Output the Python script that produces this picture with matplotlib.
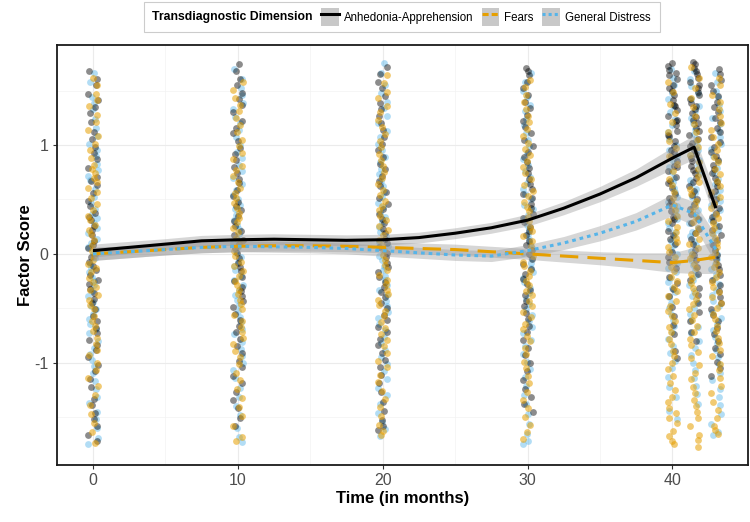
import matplotlib
matplotlib.use('Agg')
import matplotlib.pyplot as plt
from matplotlib.lines import Line2D
from matplotlib.patches import Patch, Rectangle
import numpy as np

plt.rcParams['font.family'] = ['Liberation Sans', 'DejaVu Sans']
plt.rcParams['axes.unicode_minus'] = False

# Measurement waves (months)
waves = [0, 10, 20, 30, 40, 41.5, 43]

# Factor scores per wave
anh_points = [
    [1.68, 1.55, 1.41, 1.29, 1.12, 0.98, 0.87, 0.71, 0.63, 0.49, 0.38, 0.31, 0.22, 0.12, 0.05, -0.03, -0.11, -0.19, -0.28, -0.36, -0.45, -0.57, -0.68, -0.79, -0.88, -1.02, -1.15, -1.33, -1.46, -1.58, -1.72,
     1.61, 1.47, 1.35, 1.21, 1.06, 0.93, 0.79, 0.67, 0.56, 0.44, 0.34, 0.26, 0.17, 0.08, 0.01, -0.07, -0.15, -0.24, -0.32, -0.41, -0.51, -0.62, -0.73, -0.84, -0.95, -1.08, -1.22, -1.39, -1.52, -1.66],
    [1.74, 1.61, 1.48, 1.37, 1.22, 1.11, 0.97, 0.86, 0.74, 0.65, 0.53, 0.44, 0.35, 0.26, 0.17, 0.09, 0.01, -0.08, -0.16, -0.25, -0.34, -0.43, -0.55, -0.66, -0.78, -0.91, -1.04, -1.19, -1.34, -1.51,
     1.68, 1.55, 1.42, 1.30, 1.16, 1.04, 0.92, 0.80, 0.69, 0.59, 0.48, 0.40, 0.30, 0.21, 0.13, 0.05, -0.04, -0.12, -0.21, -0.30, -0.39, -0.49, -0.61, -0.72, -0.85, -0.98, -1.12, -1.27, -1.42, -1.58],
    [1.72, 1.58, 1.45, 1.33, 1.20, 1.07, 0.95, 0.83, 0.72, 0.62, 0.51, 0.41, 0.32, 0.23, 0.14, 0.06, -0.03, -0.12, -0.21, -0.30, -0.40, -0.50, -0.61, -0.72, -0.84, -0.97, -1.11, -1.27, -1.44, -1.62,
     1.65, 1.52, 1.39, 1.27, 1.14, 1.01, 0.89, 0.78, 0.67, 0.57, 0.46, 0.37, 0.28, 0.19, 0.10, 0.01, -0.08, -0.17, -0.26, -0.35, -0.45, -0.56, -0.67, -0.78, -0.91, -1.04, -1.19, -1.36, -1.53, -1.58],
    [1.71, 1.64, 1.52, 1.40, 1.28, 1.17, 1.05, 0.94, 0.84, 0.74, 0.64, 0.55, 0.46, 0.37, 0.29, 0.21, 0.12, 0.04, -0.05, -0.14, -0.23, -0.33, -0.43, -0.54, -0.66, -0.79, -0.93, -1.08, -1.24, -1.38,
     1.68, 1.58, 1.46, 1.34, 1.22, 1.11, 0.99, 0.89, 0.79, 0.69, 0.60, 0.51, 0.42, 0.33, 0.25, 0.17, 0.08, 0.00, -0.09, -0.18, -0.28, -0.38, -0.48, -0.60, -0.72, -0.86, -1.00, -1.16, -1.31, -1.45],
    [1.75, 1.69, 1.64, 1.55, 1.50, 1.41, 1.36, 1.27, 1.22, 1.13, 1.08, 0.99, 0.94, 0.85, 0.80, 0.71, 0.65, 0.55, 0.49, 0.39, 0.32, 0.21, 0.14, 0.02, -0.07, -0.21, -0.32, -0.49, -0.65, -0.89,
     1.73, 1.66, 1.61, 1.52, 1.46, 1.37, 1.32, 1.23, 1.18, 1.09, 1.04, 0.95, 0.90, 0.81, 0.76, 0.67, 0.61, 0.51, 0.45, 0.34, 0.28, 0.17, 0.09, -0.03, -0.13, -0.27, -0.39, -0.57, -0.74, -0.96],
    [1.76, 1.71, 1.65, 1.58, 1.52, 1.46, 1.39, 1.33, 1.26, 1.20, 1.13, 1.06, 0.99, 0.92, 0.85, 0.77, 0.70, 0.62, 0.54, 0.46, 0.37, 0.28, 0.19, 0.09, -0.01, -0.12, -0.24, -0.38, -0.53, -0.72,
     1.74, 1.68, 1.62, 1.55, 1.49, 1.42, 1.36, 1.29, 1.23, 1.16, 1.09, 1.02, 0.95, 0.88, 0.81, 0.74, 0.66, 0.58, 0.50, 0.41, 0.32, 0.23, 0.14, 0.04, -0.06, -0.18, -0.31, -0.45, -0.62, -0.80],
    [1.70, 1.60, 1.50, 1.40, 1.30, 1.21, 1.12, 1.03, 0.94, 0.86, 0.78, 0.70, 0.62, 0.54, 0.46, 0.38, 0.30, 0.22, 0.13, 0.04, -0.05, -0.14, -0.24, -0.34, -0.45, -0.56, -0.68, -0.80, -0.92, -1.05,
     1.65, 1.55, 1.45, 1.35, 1.25, 1.16, 1.07, 0.98, 0.90, 0.82, 0.74, 0.66, 0.58, 0.50, 0.42, 0.34, 0.26, 0.17, 0.08, -0.01, -0.10, -0.19, -0.29, -0.40, -0.51, -0.62, -0.74, -0.86, -0.99, -1.12],
]
fear_points = [
    [1.62, 1.47, 1.36, 1.21, 1.08, 0.95, 0.82, 0.74, 0.66, 0.57, 0.46, 0.35, 0.27, 0.18, 0.08, -0.02, -0.09, -0.17, -0.26, -0.33, -0.42, -0.51, -0.62, -0.71, -0.83, -0.93, -1.07, -1.21, -1.39, -1.55, -1.74,
     1.55, 1.41, 1.28, 1.14, 1.01, 0.88, 0.78, 0.70, 0.61, 0.51, 0.40, 0.31, 0.22, 0.13, 0.03, -0.06, -0.13, -0.22, -0.30, -0.38, -0.47, -0.57, -0.66, -0.77, -0.88, -1.00, -1.14, -1.30, -1.47, -1.64],
    [1.58, 1.43, 1.31, 1.18, 1.05, 0.93, 0.81, 0.72, 0.61, 0.51, 0.42, 0.33, 0.24, 0.15, 0.07, -0.02, -0.11, -0.20, -0.29, -0.37, -0.46, -0.56, -0.67, -0.77, -0.89, -1.01, -1.16, -1.32, -1.49, -1.68,
     1.51, 1.37, 1.25, 1.12, 0.99, 0.87, 0.77, 0.66, 0.56, 0.47, 0.38, 0.29, 0.20, 0.11, 0.03, -0.07, -0.16, -0.25, -0.33, -0.42, -0.51, -0.62, -0.72, -0.83, -0.95, -1.09, -1.24, -1.41, -1.58, -1.72],
    [1.64, 1.49, 1.36, 1.23, 1.10, 0.98, 0.86, 0.75, 0.64, 0.54, 0.44, 0.35, 0.26, 0.17, 0.08, -0.01, -0.10, -0.19, -0.28, -0.37, -0.47, -0.57, -0.68, -0.79, -0.91, -1.04, -1.18, -1.33, -1.49, -1.66,
     1.57, 1.43, 1.30, 1.17, 1.04, 0.92, 0.81, 0.70, 0.59, 0.49, 0.40, 0.31, 0.22, 0.13, 0.04, -0.06, -0.15, -0.24, -0.33, -0.42, -0.52, -0.63, -0.74, -0.85, -0.98, -1.11, -1.26, -1.41, -1.57, -1.63],
    [1.60, 1.46, 1.33, 1.21, 1.08, 0.96, 0.85, 0.74, 0.63, 0.53, 0.43, 0.34, 0.25, 0.16, 0.07, -0.02, -0.11, -0.20, -0.29, -0.38, -0.48, -0.58, -0.69, -0.80, -0.92, -1.05, -1.19, -1.34, -1.50, -1.64,
     1.53, 1.40, 1.27, 1.15, 1.02, 0.91, 0.80, 0.69, 0.58, 0.48, 0.39, 0.30, 0.21, 0.12, 0.03, -0.07, -0.16, -0.25, -0.34, -0.43, -0.53, -0.64, -0.75, -0.86, -0.99, -1.12, -1.27, -1.42, -1.57, -1.70],
    [1.58, 1.38, 1.21, 1.04, 0.90, 0.76, 0.63, 0.51, 0.40, 0.30, 0.20, 0.11, 0.02, -0.07, -0.16, -0.25, -0.34, -0.43, -0.52, -0.62, -0.72, -0.83, -0.94, -1.06, -1.19, -1.31, -1.42, -1.51, -1.63, -1.72,
     1.49, 1.29, 1.12, 0.97, 0.83, 0.69, 0.57, 0.45, 0.35, 0.25, 0.15, 0.06, -0.03, -0.12, -0.21, -0.30, -0.39, -0.48, -0.57, -0.67, -0.78, -0.89, -1.00, -1.12, -1.25, -1.36, -1.46, -1.55, -1.67, -1.75],
    [1.72, 1.52, 1.35, 1.19, 1.05, 0.91, 0.78, 0.66, 0.55, 0.44, 0.34, 0.24, 0.14, 0.05, -0.04, -0.13, -0.22, -0.31, -0.41, -0.51, -0.61, -0.72, -0.84, -0.96, -1.09, -1.22, -1.34, -1.45, -1.58, -1.77,
     1.62, 1.43, 1.27, 1.12, 0.98, 0.84, 0.72, 0.60, 0.49, 0.39, 0.29, 0.19, 0.09, 0.00, -0.09, -0.18, -0.27, -0.36, -0.46, -0.56, -0.66, -0.78, -0.90, -1.02, -1.15, -1.28, -1.40, -1.51, -1.66, -1.71],
    [1.62, 1.46, 1.33, 1.20, 1.07, 0.95, 0.84, 0.73, 0.62, 0.52, 0.42, 0.33, 0.24, 0.15, 0.06, -0.03, -0.12, -0.21, -0.30, -0.40, -0.50, -0.60, -0.71, -0.82, -0.94, -1.07, -1.21, -1.36, -1.51, -1.65,
     1.55, 1.40, 1.27, 1.14, 1.01, 0.89, 0.78, 0.67, 0.57, 0.47, 0.37, 0.28, 0.19, 0.10, 0.01, -0.08, -0.17, -0.26, -0.35, -0.45, -0.55, -0.66, -0.77, -0.88, -1.01, -1.14, -1.28, -1.43, -1.58, -1.62],
]
dist_points = [
    [1.66, 1.44, 1.33, 1.16, 1.01, 0.90, 0.77, 0.68, 0.52, 0.41, 0.33, 0.24, 0.14, 0.06, -0.04, -0.13, -0.21, -0.29, -0.39, -0.48, -0.55, -0.64, -0.73, -0.86, -0.97, -1.09, -1.24, -1.37, -1.52, -1.69,
     1.58, 1.39, 1.24, 1.08, 0.95, 0.83, 0.72, 0.60, 0.47, 0.37, 0.28, 0.19, 0.10, 0.01, -0.09, -0.17, -0.25, -0.34, -0.44, -0.51, -0.60, -0.69, -0.80, -0.92, -1.03, -1.17, -1.31, -1.45, -1.60, -1.75],
    [1.70, 1.52, 1.39, 1.26, 1.14, 1.00, 0.88, 0.76, 0.64, 0.54, 0.45, 0.36, 0.27, 0.18, 0.10, 0.02, -0.07, -0.15, -0.24, -0.33, -0.42, -0.52, -0.63, -0.74, -0.87, -1.00, -1.14, -1.31, -1.48, -1.73,
     1.61, 1.46, 1.33, 1.20, 1.07, 0.94, 0.82, 0.70, 0.59, 0.50, 0.41, 0.31, 0.23, 0.14, 0.06, -0.03, -0.11, -0.20, -0.29, -0.38, -0.47, -0.58, -0.69, -0.81, -0.94, -1.07, -1.23, -1.40, -1.60, -1.68],
    [1.75, 1.55, 1.40, 1.27, 1.13, 1.01, 0.89, 0.78, 0.67, 0.57, 0.47, 0.38, 0.29, 0.20, 0.11, 0.03, -0.06, -0.15, -0.24, -0.33, -0.43, -0.53, -0.64, -0.76, -0.88, -1.01, -1.15, -1.30, -1.46, -1.61,
     1.66, 1.48, 1.34, 1.20, 1.07, 0.95, 0.84, 0.73, 0.62, 0.52, 0.43, 0.34, 0.25, 0.16, 0.07, -0.02, -0.11, -0.20, -0.29, -0.38, -0.48, -0.59, -0.70, -0.82, -0.95, -1.08, -1.23, -1.38, -1.54, -1.67],
    [1.66, 1.50, 1.37, 1.24, 1.11, 0.99, 0.87, 0.76, 0.65, 0.55, 0.45, 0.36, 0.27, 0.18, 0.09, 0.01, -0.08, -0.17, -0.26, -0.36, -0.46, -0.56, -0.67, -0.79, -0.92, -1.06, -1.21, -1.38, -1.56, -1.75,
     1.58, 1.44, 1.31, 1.18, 1.05, 0.93, 0.82, 0.71, 0.60, 0.50, 0.41, 0.32, 0.23, 0.14, 0.05, -0.04, -0.13, -0.22, -0.31, -0.41, -0.51, -0.62, -0.73, -0.85, -0.99, -1.13, -1.30, -1.47, -1.65, -1.72],
    [1.70, 1.55, 1.42, 1.30, 1.18, 1.06, 0.95, 0.85, 0.75, 0.66, 0.57, 0.48, 0.40, 0.32, 0.24, 0.16, 0.08, 0.00, -0.08, -0.17, -0.26, -0.35, -0.45, -0.55, -0.66, -0.78, -0.91, -1.05, -1.22, -1.44,
     1.62, 1.48, 1.36, 1.24, 1.12, 1.00, 0.90, 0.80, 0.70, 0.61, 0.52, 0.44, 0.36, 0.28, 0.20, 0.12, 0.04, -0.04, -0.13, -0.22, -0.31, -0.40, -0.50, -0.61, -0.72, -0.85, -0.98, -1.13, -1.31, -1.52],
    [1.68, 1.54, 1.42, 1.31, 1.20, 1.10, 1.00, 0.91, 0.82, 0.73, 0.64, 0.56, 0.48, 0.40, 0.32, 0.24, 0.16, 0.08, -0.01, -0.10, -0.19, -0.29, -0.39, -0.50, -0.61, -0.73, -0.86, -1.00, -1.14, -1.29,
     1.61, 1.48, 1.36, 1.25, 1.15, 1.05, 0.95, 0.86, 0.77, 0.68, 0.60, 0.52, 0.44, 0.36, 0.28, 0.20, 0.12, 0.03, -0.06, -0.15, -0.24, -0.34, -0.44, -0.55, -0.67, -0.80, -0.93, -1.07, -1.21, -1.38],
    [1.66, 1.50, 1.37, 1.25, 1.13, 1.01, 0.90, 0.79, 0.69, 0.59, 0.49, 0.40, 0.31, 0.22, 0.13, 0.04, -0.05, -0.14, -0.23, -0.33, -0.43, -0.53, -0.64, -0.76, -0.88, -1.01, -1.16, -1.31, -1.47, -1.66,
     1.58, 1.44, 1.31, 1.19, 1.07, 0.96, 0.85, 0.74, 0.64, 0.54, 0.45, 0.36, 0.27, 0.18, 0.09, 0.00, -0.09, -0.18, -0.28, -0.38, -0.48, -0.59, -0.70, -0.82, -0.95, -1.09, -1.24, -1.39, -1.56, -1.64],
]

# Smoothed trajectories with their confidence half widths
smooth_x = [0, 2.5, 5, 7.5, 10, 12.5, 15, 17.5, 20, 22.5, 25, 27.5, 30, 32.5, 35, 37.5, 40, 41.5, 43]
anh_fit = [0.03, 0.06, 0.09, 0.12, 0.13, 0.135, 0.13, 0.125, 0.13, 0.15, 0.19, 0.24, 0.31, 0.42, 0.55, 0.70, 0.88, 0.98, 0.42]
anh_se = [0.06, 0.055, 0.05, 0.05, 0.05, 0.05, 0.05, 0.05, 0.05, 0.05, 0.05, 0.05, 0.055, 0.06, 0.07, 0.08, 0.10, 0.11, 0.13]
fear_fit = [0.0, 0.02, 0.04, 0.06, 0.07, 0.075, 0.075, 0.07, 0.06, 0.05, 0.04, 0.02, 0.0, -0.02, -0.04, -0.06, -0.08, -0.06, -0.03]
fear_se = [0.06, 0.055, 0.05, 0.05, 0.05, 0.05, 0.05, 0.05, 0.05, 0.05, 0.05, 0.05, 0.05, 0.055, 0.06, 0.07, 0.09, 0.12, 0.15]
dist_fit = [0.0, 0.02, 0.04, 0.06, 0.07, 0.065, 0.06, 0.05, 0.03, 0.01, -0.01, -0.02, 0.03, 0.10, 0.19, 0.30, 0.45, 0.37, 0.04]
dist_se = [0.06, 0.055, 0.05, 0.05, 0.05, 0.05, 0.05, 0.05, 0.05, 0.05, 0.05, 0.05, 0.055, 0.06, 0.07, 0.08, 0.10, 0.11, 0.13]

labels = ['Anhedonia-Apprehension', 'Fears', 'General Distress']
colors = ['#000000', '#E69F00', '#56B4E9']
point_alpha = [0.45, 0.55, 0.45]

# horizontal jitter pattern (position only)
jitter = [-0.38, 0.21, -0.06, 0.42, -0.27, 0.11, -0.45, 0.31, -0.16, 0.03, 0.36, -0.33, 0.17,
          -0.21, 0.46, -0.11, 0.26, -0.41, 0.07, 0.39, -0.02, -0.30, 0.14]

fig = plt.figure(figsize=(7.5, 5.22), dpi=100)
ax = fig.add_axes([0.076, 0.109, 0.921, 0.805])

series = [anh_points, fear_points, dist_points]
for j, w in enumerate(waves):
    for k in [2, 0, 1]:  # distress, anhedonia, then fears on top
        ys = series[k][j]
        xs = [w + 0.75 * jitter[(i * 7 + k * 9 + j * 5) % len(jitter)] for i in range(len(ys))]
        ax.scatter(xs, ys, s=24, color=colors[k], alpha=point_alpha[k], linewidths=0, zorder=2)

fits = [(anh_fit, anh_se, '-', None), (fear_fit, fear_se, '--', (6, 3)), (dist_fit, dist_se, ':', (1.2, 1.3))]
sx = np.array(smooth_x)
for fit, se, ls, dashes in fits:
    fit = np.array(fit)
    se = np.array(se)
    ax.fill_between(sx, fit - se, fit + se, color='#999999', alpha=0.4, linewidth=0, zorder=3)
for (fit, se, ls, dashes), col in zip(fits, colors):
    line, = ax.plot(sx, fit, color=col, lw=2.2, zorder=4, solid_capstyle='butt')
    if dashes is not None:
        line.set_dashes(dashes)
        line.set_dash_capstyle('butt')

ax.set_xlim(-2.48, 45.2)
ax.set_ylim(-1.94, 1.92)
ax.set_xticks([0, 10, 20, 30, 40])
ax.set_xticks([5, 15, 25, 35], minor=True)
ax.set_yticks([-1, 0, 1])
ax.set_yticks([-1.5, -0.5, 0.5, 1.5], minor=True)
ax.grid(True, which='major', color='#EBEBEB', lw=0.8, zorder=0)
ax.grid(True, which='minor', color='#F3F3F3', lw=0.5, zorder=0)
ax.set_axisbelow(True)
ax.tick_params(which='major', length=3, color='#333333', labelsize=11.5, labelcolor='#4D4D4D', pad=3)
ax.tick_params(which='minor', length=0)
for sp in ax.spines.values():
    sp.set_color('#1a1a1a')
    sp.set_linewidth(1.3)

ax.set_xlabel('Time (in months)', fontsize=12, fontweight='bold', labelpad=2)
ax.set_ylabel('Factor Score', fontsize=12, fontweight='bold', labelpad=1)

# legend: title on the left, keys on a grey background, boxed
W, H = 750, 522
fig.patches.append(Rectangle((144 / W, 1 - 32 / H), (660 - 144) / W, 30 / H, transform=fig.transFigure,
                             facecolor='white', edgecolor='#CCCCCC', lw=0.8, zorder=5))
fig.text(152 / W, 1 - 17 / H, 'Transdiagnostic Dimension', fontsize=8.8, fontweight='bold',
         va='center', ha='left', zorder=6)
handles = []
for col, (fit, se, ls, dashes) in zip(colors, fits):
    ln = Line2D([], [], color=col, lw=2.2, linestyle=ls)
    if dashes is not None:
        ln.set_dashes((2, 1) if ls == '--' else (1, 1))
    handles.append((Patch(facecolor='#C8C8C8', edgecolor='none'), ln))
leg = fig.legend(handles, labels, loc='center left', bbox_to_anchor=(319 / W, 1 - 17 / H), ncol=3,
                 fontsize=8.3, frameon=False, handlelength=1.5, handleheight=2.0,
                 handletextpad=0.45, columnspacing=0.75, borderpad=0.2, borderaxespad=0)
leg.set_zorder(6)

fig.savefig('out.png', dpi=100)
